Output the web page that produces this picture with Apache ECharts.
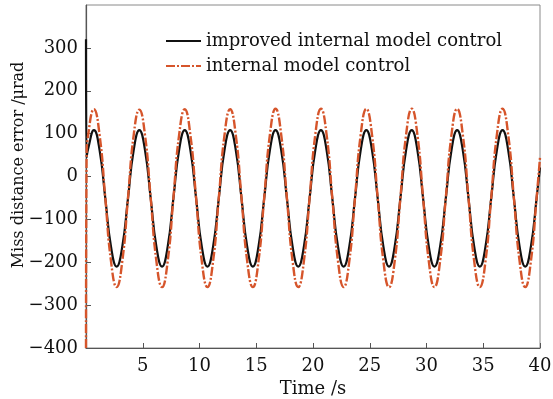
<!DOCTYPE html>
<html>
<head>
<meta charset="utf-8">
<script src="https://cdn.jsdelivr.net/npm/echarts@6/dist/echarts.min.js"></script>
<style>html,body{margin:0;padding:0;background:#fff}#c{width:553px;height:399px}</style>
</head>
<body>
<div id="c"></div>
<script>
var timeS = [0, 0.05,
  0.2, 0.7, 1.2, 1.7, 2.2, 2.7, 3.2, 3.7,
  4.2, 4.7, 5.2, 5.7, 6.2, 6.7, 7.2, 7.7,
  8.2, 8.7, 9.2, 9.7, 10.2, 10.7, 11.2, 11.7,
  12.2, 12.7, 13.2, 13.7, 14.2, 14.7, 15.2, 15.7,
  16.2, 16.7, 17.2, 17.7, 18.2, 18.7, 19.2, 19.7,
  20.2, 20.7, 21.2, 21.7, 22.2, 22.7, 23.2, 23.7,
  24.2, 24.7, 25.2, 25.7, 26.2, 26.7, 27.2, 27.7,
  28.2, 28.7, 29.2, 29.7, 30.2, 30.7, 31.2, 31.7,
  32.2, 32.7, 33.2, 33.7, 34.2, 34.7, 35.2, 35.7,
  36.2, 36.7, 37.2, 37.7, 38.2, 38.7, 39.2, 39.7,
  40];
var improvedIMC = [320, 45,
  66, 108, 61, -51, -163, -210, -163, -51,
  61, 108, 61, -51, -163, -210, -163, -51,
  61, 108, 61, -51, -163, -210, -163, -51,
  61, 108, 61, -51, -163, -210, -163, -51,
  61, 108, 61, -51, -163, -210, -163, -51,
  61, 108, 61, -51, -163, -210, -163, -51,
  61, 108, 61, -51, -163, -210, -163, -51,
  61, 108, 61, -51, -163, -210, -163, -51,
  61, 108, 61, -51, -163, -210, -163, -51,
  61, 108, 61, -51, -163, -210, -163, -51,
  21];
var standardIMC = [-400, 40,
  98, 157, 96, -50, -197, -258, -197, -50,
  96, 156, 96, -50, -197, -258, -197, -50,
  96, 157, 96, -50, -197, -258, -197, -50,
  96, 157, 96, -50, -197, -258, -197, -50,
  97, 158, 97, -50, -197, -258, -197, -50,
  97, 158, 97, -50, -197, -258, -197, -50,
  97, 158, 97, -50, -197, -258, -197, -50,
  97, 158, 97, -50, -197, -258, -197, -50,
  97, 158, 97, -50, -197, -258, -197, -50,
  97, 158, 97, -50, -197, -258, -197, -50,
  44];
var seriesNames = ['improved internal model control', 'internal model control'];
var xTicks = {min: 0, max: 40, interval: 5};
var yTicks = {min: -400, max: 400, interval: 100};
var xTitle = 'Time /s';
var yTitle = 'Miss distance error /\u03bcrad';

function pairs(xs, ys) { return xs.map(function (x, i) { return [x, ys[i]]; }); }

var FONT = 'DejaVu Serif';
var TXT = '#111';
var RED = '#d6552b';
var chart = echarts.init(document.getElementById('c'));
chart.setOption({
  backgroundColor: '#fff',
  animation: false,
  grid: {left: 86, right: 13, top: 5, bottom: 51, show: true, borderColor: '#8a8a8a', borderWidth: 1,
    containLabel: false, outerBoundsMode: 'none'},
  legend: {
    orient: 'vertical', left: 160, top: 27, itemGap: 7,
    itemWidth: 35, itemHeight: 12,
    itemStyle: {opacity: 0},
    textStyle: {fontFamily: FONT, fontSize: 18, color: TXT},
    data: seriesNames
  },
  graphic: [{
    type: 'text', x: 19, y: 165, rotation: Math.PI / 2,
    style: {text: yTitle, fontFamily: FONT, fontSize: 16, fill: TXT, align: 'center', verticalAlign: 'middle'}
  }],
  xAxis: {
    type: 'value', min: xTicks.min, max: xTicks.max, interval: xTicks.interval,
    name: xTitle, nameLocation: 'middle', nameGap: 29,
    nameTextStyle: {fontFamily: FONT, fontSize: 18, color: TXT},
    axisLine: {onZero: false, lineStyle: {color: '#555', width: 1.2}},
    axisTick: {inside: true, length: 5, lineStyle: {color: '#555'}},
    axisLabel: {showMinLabel: false, fontFamily: FONT, fontSize: 18, color: TXT, margin: 9},
    splitLine: {show: false}
  },
  yAxis: {
    type: 'value', min: yTicks.min, max: yTicks.max, interval: yTicks.interval,
    axisLine: {show: true, onZero: false, lineStyle: {color: '#555', width: 1.2}},
    axisTick: {inside: true, length: 5, lineStyle: {color: '#555'}},
    axisLabel: {showMaxLabel: false, fontFamily: FONT, fontSize: 18, color: TXT, margin: 8,
      formatter: function (v) { return String(v).replace('-', '\u2212'); }},
    splitLine: {show: false}
  },
  series: [
    {name: seriesNames[0], type: 'line', data: pairs(timeS, improvedIMC), symbol: 'none',
      smooth: true, clip: true,
      lineStyle: {color: '#111', width: 2.2}, itemStyle: {color: '#111'}, z: 2},
    {name: seriesNames[1], type: 'line', data: pairs(timeS, standardIMC), symbol: 'none',
      smooth: true, clip: true,
      lineStyle: {color: RED, width: 2.4, type: [9, 2, 2, 2]}, itemStyle: {color: RED}, z: 3}
  ]
});
</script>
</body>
</html>
